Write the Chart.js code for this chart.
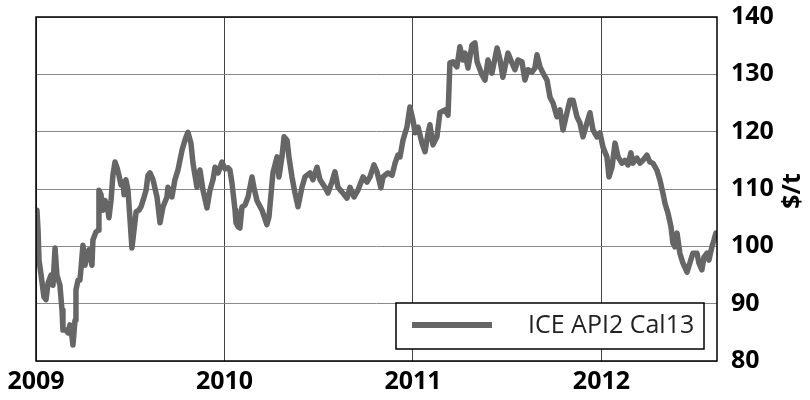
<!DOCTYPE html>
<html>
<head>
<meta charset="utf-8">
<script src="https://cdn.jsdelivr.net/npm/chart.js@4"></script>
<style>
  html, body { margin: 0; padding: 0; background: #fff; }
  #wrap { width: 810px; height: 400px; }
</style>
</head>
<body>
<div id="wrap"><canvas id="chart"></canvas></div>
<script>
// dates as decimal years
const dates = [
  2009.000, 2009.005, 2009.011, 2009.016, 2009.027, 2009.042, 2009.053, 2009.064, 2009.080, 2009.090,
  2009.101, 2009.111, 2009.127, 2009.138, 2009.143, 2009.159, 2009.170, 2009.180, 2009.191, 2009.196,
  2009.207, 2009.212, 2009.223, 2009.233, 2009.239, 2009.249, 2009.260, 2009.271, 2009.281, 2009.297,
  2009.302, 2009.318, 2009.329, 2009.334, 2009.345, 2009.355, 2009.366, 2009.377, 2009.387, 2009.398,
  2009.408, 2009.419, 2009.430, 2009.440, 2009.451, 2009.462, 2009.467, 2009.477, 2009.488, 2009.499,
  2009.509, 2009.520, 2009.531, 2009.546, 2009.557, 2009.568, 2009.584, 2009.594, 2009.605, 2009.621,
  2009.642, 2009.658, 2009.674, 2009.695, 2009.700, 2009.721, 2009.737, 2009.753, 2009.775, 2009.790,
  2009.806, 2009.822, 2009.833, 2009.854, 2009.870, 2009.886, 2009.907, 2009.923, 2009.939, 2009.950,
  2009.966, 2009.987, 2010.003, 2010.019, 2010.029, 2010.040, 2010.056, 2010.061, 2010.072, 2010.082,
  2010.093, 2010.109, 2010.125, 2010.146, 2010.156, 2010.172, 2010.199, 2010.225, 2010.236, 2010.257,
  2010.279, 2010.289, 2010.305, 2010.316, 2010.332, 2010.342, 2010.358, 2010.374, 2010.390, 2010.411,
  2010.427, 2010.454, 2010.469, 2010.491, 2010.507, 2010.533, 2010.549, 2010.570, 2010.586, 2010.602,
  2010.623, 2010.650, 2010.666, 2010.687, 2010.708, 2010.735, 2010.756, 2010.772, 2010.793, 2010.809,
  2010.830, 2010.841, 2010.867, 2010.889, 2010.905, 2010.920, 2010.931, 2010.947, 2010.968, 2010.984,
  2011.000, 2011.011, 2011.027, 2011.048, 2011.064, 2011.080, 2011.090, 2011.106, 2011.127, 2011.143,
  2011.170, 2011.186, 2011.196, 2011.212, 2011.233, 2011.249, 2011.265, 2011.276, 2011.292, 2011.313,
  2011.329, 2011.340, 2011.366, 2011.382, 2011.398, 2011.419, 2011.446, 2011.462, 2011.477, 2011.504,
  2011.525, 2011.541, 2011.557, 2011.578, 2011.594, 2011.610, 2011.631, 2011.647, 2011.658, 2011.674,
  2011.690, 2011.711, 2011.727, 2011.743, 2011.764, 2011.780, 2011.796, 2011.817, 2011.833, 2011.849,
  2011.870, 2011.886, 2011.902, 2011.923, 2011.939, 2011.955, 2011.976, 2011.992, 2012.008, 2012.029,
  2012.040, 2012.056, 2012.072, 2012.088, 2012.109, 2012.125, 2012.141, 2012.156, 2012.167, 2012.188,
  2012.204, 2012.220, 2012.241, 2012.257, 2012.273, 2012.294, 2012.310, 2012.326, 2012.337, 2012.353,
  2012.369, 2012.379, 2012.390, 2012.401, 2012.416, 2012.432, 2012.454, 2012.469, 2012.485, 2012.507,
  2012.517, 2012.533, 2012.544, 2012.560, 2012.570, 2012.586, 2012.597, 2012.607
];

// ICE API2 Cal13, $/t
const prices = [
  100.6, 106.3, 102.8, 97.6, 95.0, 91.2, 90.7, 93.6, 95.0, 93.2,
  99.7, 95.0, 93.2, 88.9, 85.4, 85.4, 84.9, 86.3, 84.2, 82.8,
  87.1, 92.4, 94.1, 94.1, 96.2, 100.2, 96.7, 98.5, 99.4, 96.7,
  101.1, 102.5, 102.8, 109.8, 109.0, 106.3, 108.0, 107.2, 105.0, 108.0,
  112.4, 114.7, 113.7, 112.4, 110.7, 111.2, 109.0, 111.6, 109.8, 104.6,
  99.7, 102.8, 106.0, 106.3, 106.9, 108.0, 109.8, 112.4, 112.8, 111.6,
  108.6, 104.1, 106.9, 108.6, 110.3, 108.6, 111.6, 113.3, 116.8, 118.5,
  119.9, 118.0, 114.5, 110.3, 113.3, 109.8, 106.7, 109.8, 111.6, 113.8,
  112.8, 114.7, 113.5, 113.7, 113.3, 111.0, 106.3, 104.1, 103.4, 103.2,
  106.9, 107.2, 108.6, 112.1, 110.3, 108.0, 106.3, 103.8, 105.1, 112.8,
  115.6, 112.1, 115.6, 119.1, 118.5, 115.6, 112.1, 109.3, 106.9, 110.3,
  112.1, 112.8, 111.6, 113.8, 111.6, 110.3, 109.3, 111.2, 113.0, 110.3,
  109.5, 108.4, 110.3, 108.6, 109.8, 112.1, 111.2, 112.1, 114.2, 113.0,
  110.2, 112.1, 112.8, 112.4, 114.5, 115.9, 115.6, 118.5, 120.8, 124.3,
  122.0, 119.8, 120.8, 118.0, 116.5, 119.8, 121.2, 117.7, 119.1, 123.3,
  123.8, 122.9, 132.0, 132.2, 131.3, 134.8, 132.5, 133.7, 131.1, 135.1,
  135.5, 132.2, 129.9, 129.0, 132.5, 130.2, 134.6, 132.5, 129.5, 133.7,
  132.0, 130.8, 132.5, 132.2, 129.0, 130.8, 130.4, 131.1, 133.4, 131.3,
  130.2, 129.0, 126.0, 125.0, 122.6, 123.8, 120.3, 123.3, 125.5, 125.5,
  122.6, 121.5, 119.1, 121.5, 123.3, 120.3, 119.1, 119.8, 117.3, 115.6,
  112.1, 113.8, 118.0, 115.6, 114.5, 115.0, 114.2, 116.3, 114.5, 115.4,
  114.5, 115.0, 115.9, 114.7, 114.5, 113.3, 111.6, 109.3, 107.5, 105.8,
  103.4, 100.6, 99.9, 102.3, 98.8, 97.1, 95.5, 97.1, 98.8, 98.8,
  97.1, 95.9, 98.1, 98.8, 97.6, 99.9, 101.1, 102.3
];

const yearTicks = [2009, 2010, 2011, 2012];
const priceTicks = [80, 90, 100, 110, 120, 130, 140];
const seriesName = 'ICE API2 Cal13';
const unitLabel = '$/t';

const lineColor = '#666666';
const tickFont = { family: 'Open Sans', size: 25, weight: 'bold' };

// box around plot, legend inside bottom right, rotated unit label
const decorations = {
  id: 'decorations',
  afterDraw(chart) {
    const ctx = chart.ctx;
    const a = chart.chartArea;
    ctx.save();
    ctx.strokeStyle = '#000';
    ctx.lineWidth = 1.5;
    ctx.strokeRect(a.left, a.top, a.right - a.left, a.bottom - a.top);

    // legend
    const lx = a.right - 321, ly = a.bottom - 58, lw = 308, lh = 46;
    ctx.fillStyle = '#fff';
    ctx.fillRect(lx, ly, lw, lh);
    ctx.strokeRect(lx, ly, lw, lh);
    ctx.strokeStyle = lineColor;
    ctx.lineWidth = 6;
    ctx.beginPath();
    ctx.moveTo(lx + 16, ly + 22);
    ctx.lineTo(lx + 96, ly + 22);
    ctx.stroke();
    ctx.fillStyle = '#222';
    ctx.font = '25px "Open Sans"';
    ctx.textBaseline = 'middle';
    ctx.fillText(seriesName, lx + 132, ly + 23);

    // unit title
    ctx.translate(793, (a.top + a.bottom) / 2 + 2);
    ctx.rotate(-Math.PI / 2);
    ctx.font = 'bold 25px "Open Sans"';
    ctx.fillStyle = '#000';
    ctx.textAlign = 'center';
    ctx.textBaseline = 'middle';
    ctx.fillText(unitLabel, 0, 0);
    ctx.restore();
  }
};

new Chart(document.getElementById('chart'), {
  type: 'line',
  data: {
    datasets: [{
      label: seriesName,
      data: dates.map((d, i) => ({ x: d, y: prices[i] })),
      borderColor: lineColor,
      borderWidth: 5.5,
      borderJoinStyle: 'round',
      borderCapStyle: 'round',
      pointRadius: 0,
      tension: 0,
      fill: false
    }]
  },
  options: {
    responsive: true,
    maintainAspectRatio: false,
    animation: false,
    layout: { padding: { left: 36, top: 17, right: 0, bottom: 0 } },
    plugins: {
      legend: { display: false },
      tooltip: { enabled: false }
    },
    scales: {
      x: {
        type: 'linear',
        min: 2009,
        max: 2012.613,
        afterBuildTicks: s => { s.ticks = yearTicks.map(v => ({ value: v })); },
        afterFit: s => { s.height = 39; s.paddingLeft = 0; s.paddingRight = 0; },
        grid: { color: '#444', lineWidth: 1, drawTicks: false },
        border: { display: false },
        ticks: {
          font: tickFont,
          color: '#000',
          padding: 6,
          maxRotation: 0,
          callback: v => String(v)
        }
      },
      y: {
        position: 'right',
        min: 80,
        max: 140,
        afterBuildTicks: s => { s.ticks = priceTicks.map(v => ({ value: v })); },
        afterFit: s => { s.width = 93; s.paddingTop = 0; s.paddingBottom = 0; },
        grid: { color: '#888', lineWidth: 1, drawTicks: false },
        border: { display: false },
        ticks: {
          font: tickFont,
          color: '#000',
          padding: 14
        }
      }
    }
  },
  plugins: [decorations]
});
</script>
</body>
</html>
